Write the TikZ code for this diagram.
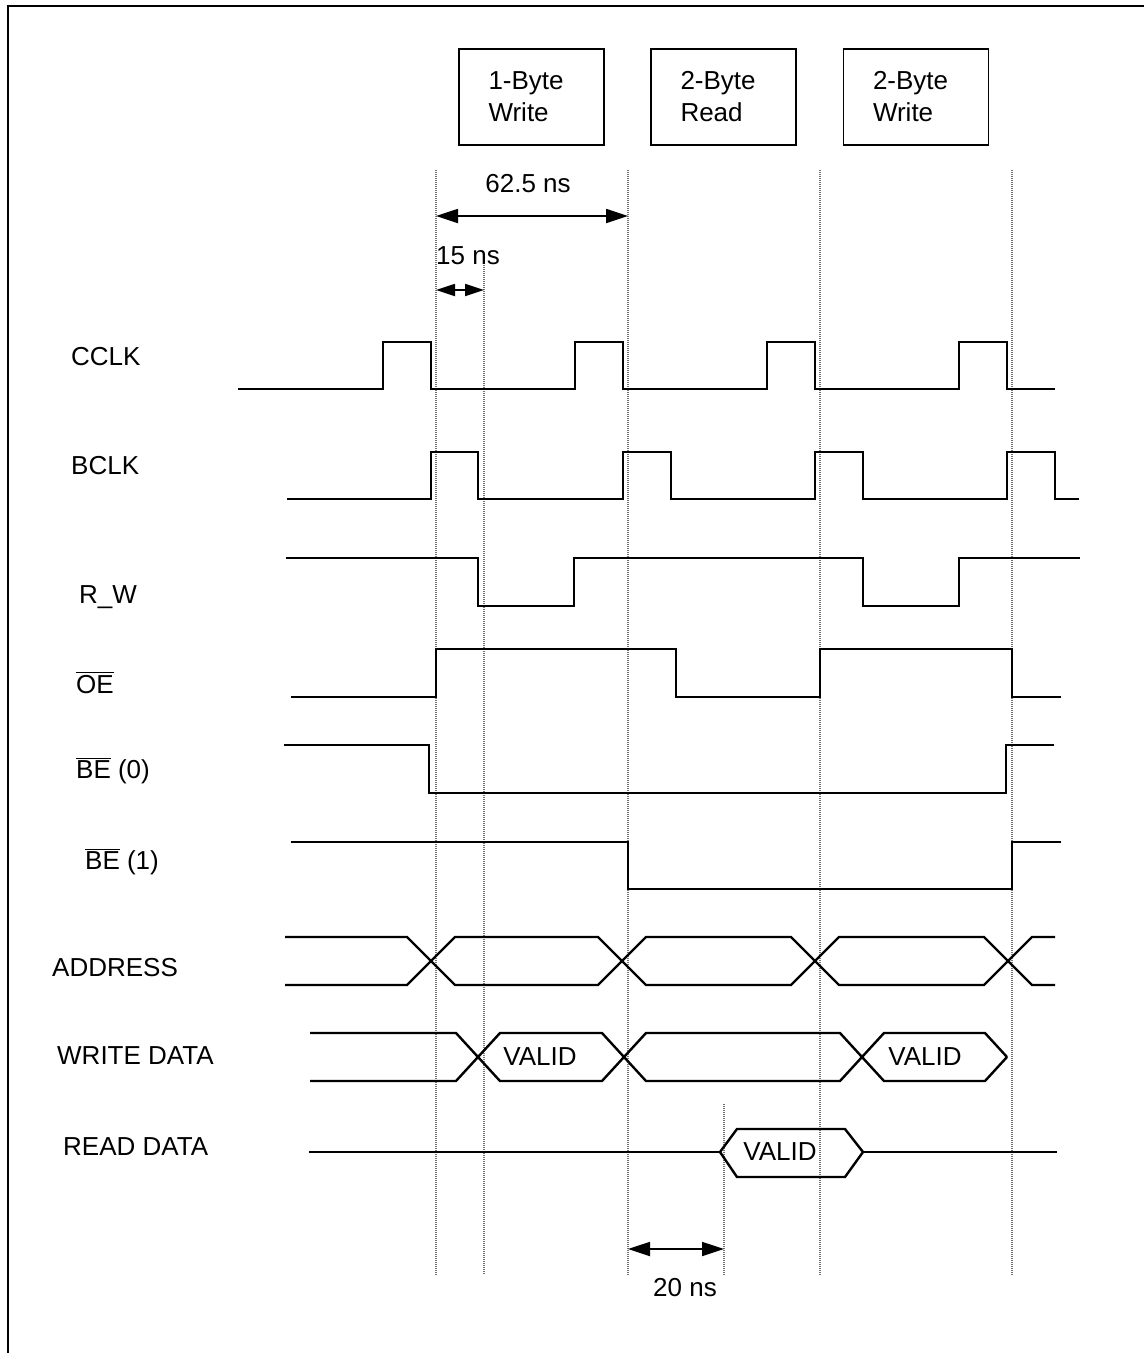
\documentclass[tikz,border=0pt]{standalone}
\usepackage{fontspec}
\setmainfont{Liberation Sans}
\usetikzlibrary{arrows.meta}
\newcommand{\ovlbar}[1]{\vbox{\hrule height 1.3pt\kern 2pt\hbox{#1}}}
\begin{document}
\begin{tikzpicture}[x=1pt,y=-1pt,
  lbl/.style={anchor=west,inner sep=0pt,font=\fontsize{26}{32}\selectfont},
  txt/.style={inner sep=0pt,font=\fontsize{26}{32}\selectfont},
  phase/.style={draw,line width=1.6pt,minimum height=96pt,text width=86pt,inner xsep=29.5pt,inner ysep=0pt,align=left,font=\fontsize{26}{32}\selectfont},
  sig/.style={line width=2.4pt,line join=miter},
  guide/.style={black!55,line width=1.2pt,dash pattern=on 1pt off 1pt},
  dim/.style={line width=1.8pt,{Triangle[length=22pt,width=14pt]}-{Triangle[length=22pt,width=14pt]}},
  dimsmall/.style={line width=1.8pt,{Triangle[length=19pt,width=12pt]}-{Triangle[length=19pt,width=12pt]}}
]
\useasboundingbox (0,0) rectangle (1144,1353);
% frame
\draw[line width=2.2pt] (8,1353) -- (8,6) -- (1144,6);

% phase boxes
\node[phase] (p1) at (531.5,97) {1-Byte\\Write};
\node[phase] (p2) at (723.5,97) {2-Byte\\Read};
\node[phase] (p3) at (916,97) {2-Byte\\Write};

% guide lines
\coordinate (g1t) at (436,170);  \coordinate (g1b) at (436,1275);
\coordinate (g2t) at (484,265);  \coordinate (g2b) at (484,1275);
\coordinate (g3t) at (628,170);  \coordinate (g3b) at (628,1275);
\coordinate (g4t) at (724,1104); \coordinate (g4b) at (724,1275);
\coordinate (g5t) at (820,170);  \coordinate (g5b) at (820,1275);
\coordinate (g6t) at (1012,170); \coordinate (g6b) at (1012,1275);
\foreach \g in {1,...,6} \draw[guide] (g\g t) -- (g\g b);

% dimension arrows
\coordinate (d1a) at (436,216); \coordinate (d1b) at (628,216);
\draw[dim] (d1a) -- (d1b);
\node[txt] (t625) at (528,184) {62.5 ns};
\coordinate (d2a) at (436,290); \coordinate (d2b) at (484,290);
\draw[dimsmall] (d2a) -- (d2b);
\node[txt] (t15) at (468,256) {15 ns};
\coordinate (d3a) at (628,1249); \coordinate (d3b) at (724,1249);
\draw[dim] (d3a) -- (d3b);
\node[txt] (t20) at (685,1288) {20 ns};

% labels
\node[lbl] (lc) at (71,357) {CCLK};
\node[lbl] (lb) at (71,466) {BCLK};
\node[lbl] (lr) at (79,597) {R\_W};
\node[lbl] (lo) at (76,683) {\ovlbar{OE}};
\node[lbl] (le0) at (76,771) {\ovlbar{BE} (0)};
\node[lbl] (le1) at (85,862) {\ovlbar{BE} (1)};
\node[lbl] (la) at (52,968) {ADDRESS};
\node[lbl] (lw) at (57,1056) {WRITE DATA};
\node[lbl] (lrd) at (63,1147) {READ DATA};

% CCLK
\draw[sig] (238,389) -- (383,389) -- (383,342) -- (431,342) -- (431,389) -- (575,389) -- (575,342) -- (623,342) -- (623,389) -- (767,389) -- (767,342) -- (815,342) -- (815,389) -- (959,389) -- (959,342) -- (1007,342) -- (1007,389) -- (1055,389);
% BCLK
\draw[sig] (287,499) -- (431,499) -- (431,452) -- (478,452) -- (478,499) -- (623,499) -- (623,452) -- (671,452) -- (671,499) -- (815,499) -- (815,452) -- (863,452) -- (863,499) -- (1007,499) -- (1007,452) -- (1055,452) -- (1055,499) -- (1079,499);
% R_W
\draw[sig] (286,558) -- (478,558) -- (478,606) -- (574,606) -- (574,558) -- (863,558) -- (863,606) -- (959,606) -- (959,558) -- (1080,558);
% OE
\draw[sig] (291,697) -- (436,697) -- (436,649) -- (676,649) -- (676,697) -- (820,697) -- (820,649) -- (1012,649) -- (1012,697) -- (1061,697);
% BE0
\draw[sig] (284,745) -- (429,745) -- (429,793) -- (1006,793) -- (1006,745) -- (1054,745);
% BE1
\draw[sig] (291,842) -- (628,842) -- (628,889) -- (1012,889) -- (1012,842) -- (1061,842);
% ADDRESS
\draw[sig] (285,937) -- (407,937) -- (455,985) -- (598,985) -- (646,937) -- (791,937) -- (839,985) -- (984,985) -- (1032,937) -- (1055,937);
\draw[sig] (285,985) -- (407,985) -- (455,937) -- (598,937) -- (646,985) -- (791,985) -- (839,937) -- (984,937) -- (1032,985) -- (1055,985);
% WRITE DATA
\draw[sig] (310,1033) -- (456,1033) -- (500,1081) -- (602,1081) -- (646,1033) -- (840,1033) -- (884,1081) -- (985,1081) -- (1007,1057);
\draw[sig] (310,1081) -- (456,1081) -- (500,1033) -- (602,1033) -- (646,1081) -- (840,1081) -- (884,1033) -- (985,1033) -- (1007,1057);
\node[txt] (v1) at (540,1057) {VALID};
\node[txt] (v2) at (925,1057) {VALID};
% READ DATA
\draw[sig] (309,1152) -- (720,1152);
\draw[sig] (720,1152) -- (737,1129) -- (845,1129) -- (863,1152) -- (845,1177) -- (737,1177) -- cycle;
\draw[sig] (863,1152) -- (1057,1152);
\node[txt] (v3) at (780,1152) {VALID};
\end{tikzpicture}
\end{document}
